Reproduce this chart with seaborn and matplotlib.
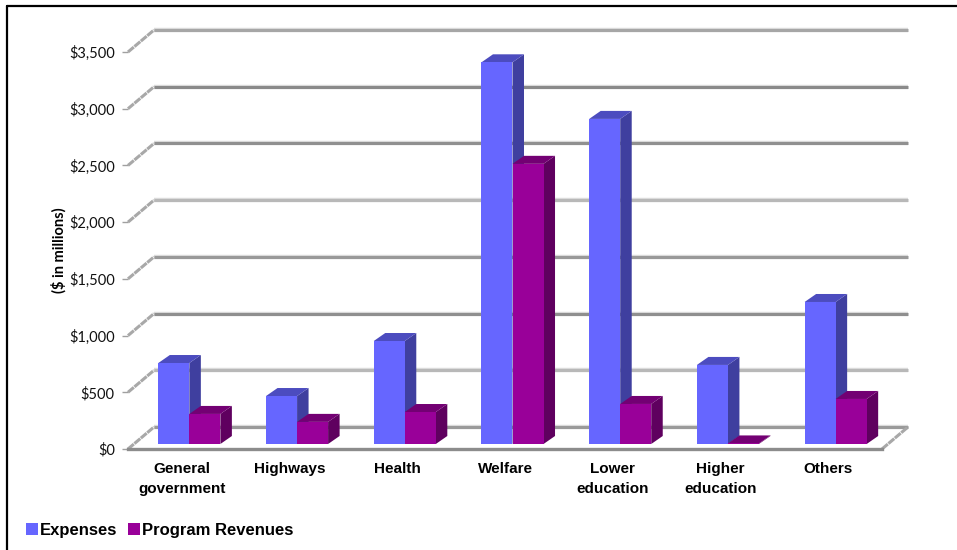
import pandas as pd
import numpy as np
import seaborn as sns
import matplotlib.pyplot as plt
from matplotlib.lines import Line2D
from matplotlib.patches import Polygon
from matplotlib.transforms import Affine2D, IdentityTransform

categories = ['General\ngovernment', 'Highways', 'Health', 'Welfare', 'Lower\neducation', 'Higher\neducation', 'Others']
expenses = [714, 423, 908, 3365, 2866, 697, 1252]
revenues = [265, 195, 282, 2470, 353, 5, 397]
yticks = [0, 500, 1000, 1500, 2000, 2500, 3000, 3500]
ytick_labels = ['$0', '$500', '$1,000', '$1,500', '$2,000', '$2,500', '$3,000', '$3,500']
grid_colors = ['#9a9a9a', '#b8b8b8', '#8f8f8f', '#999999', '#b8b8b8', '#909090', '#8a8a8a', '#a6a6a6']

W, H = 957, 550
DEPTH = (26, 22)      # floor depth, px
BAR_SHIFT = (7.5, 5)  # bars stand a little back from the front edge
BAR_DEPTH = (11.5, 8)

df = pd.DataFrame({'category': categories, 'Expenses': expenses, 'Program Revenues': revenues})
long_df = df.melt(id_vars='category', var_name='series', value_name='value')

sns.set_style('white')
plt.rcParams['font.family'] = ['Liberation Sans', 'DejaVu Sans']

fig = plt.figure(figsize=(W / 100, H / 100), dpi=100)
ax = fig.add_axes([128 / W, 1 - 449 / H, (882 - 128) / W, (449 - 52) / H])
ax.patch.set_alpha(0)

sns.barplot(data=long_df, x='category', y='value', hue='series', ax=ax, width=0.576, gap=0,
            palette=['#6666ff', '#990099'], saturation=1, errorbar=None, linewidth=0, zorder=5)
ax.set_xlim(-0.5, 6.5)
ax.set_ylim(0, 3500)

# back wall lines and the slanted floor/wall edges
for v, c in zip(yticks, grid_colors):
    x0, y0 = ax.transData.transform((-0.5, v))
    x1, _ = ax.transData.transform((6.5, v))
    ax.plot([x0 + DEPTH[0], x1 + DEPTH[0]], [y0 + DEPTH[1], y0 + DEPTH[1]], transform=IdentityTransform(),
            color='#dcdcdc', lw=3.2, solid_capstyle='butt', clip_on=False, zorder=1)
    ax.plot([x0 + DEPTH[0], x1 + DEPTH[0]], [y0 + DEPTH[1], y0 + DEPTH[1]], transform=IdentityTransform(),
            color=c, lw=2.2, solid_capstyle='butt', clip_on=False, zorder=1)
    ax.plot([x0, x0 + DEPTH[0]], [y0, y0 + DEPTH[1]], transform=IdentityTransform(),
            color='#a8a8a8', lw=2.2, ls=(0, (2.5, 0.25)), clip_on=False, zorder=1)
x1, y0 = ax.transData.transform((6.5, 0))
ax.plot([x1, x1 + DEPTH[0]], [y0, y0 + DEPTH[1]], transform=IdentityTransform(),
        color='#a8a8a8', lw=2.2, ls=(0, (2.5, 0.25)), clip_on=False, zorder=1)

# extruded faces for each bar, worked out from the seaborn bars
face_colors = [('#4c4cbf', '#3f3f9f'), ('#730073', '#5f005f')]
shift = Affine2D().translate(*BAR_SHIFT)
for n, container in enumerate(ax.containers):
    top_c, side_c = face_colors[n]
    for bar in container:
        bar.set_transform(ax.transData + shift)
        bar.set_clip_on(False)
        bar.set_zorder(5 + 2 * n)
        xa, ya = ax.transData.transform((bar.get_x(), 0)) + np.array(BAR_SHIFT)
        xb, yb = ax.transData.transform((bar.get_x() + bar.get_width(), bar.get_height())) + np.array(BAR_SHIFT)
        dx, dy = BAR_DEPTH
        side = Polygon([(xb, ya), (xb + dx, ya + dy), (xb + dx, yb + dy), (xb, yb)], closed=True, fc=side_c, lw=0,
                       transform=IdentityTransform(), clip_on=False, zorder=4 + 2 * n)
        top = Polygon([(xa, yb), (xa + dx, yb + dy), (xb + dx, yb + dy), (xb, yb)], closed=True, fc=top_c, lw=0,
                      transform=IdentityTransform(), clip_on=False, zorder=4 + 2 * n)
        ax.add_patch(side)
        ax.add_patch(top)

sns.despine(ax=ax, left=True, top=True, right=True)
ax.spines['bottom'].set_color('#8c8c8c')
ax.spines['bottom'].set_linewidth(2.4)
ax.spines['bottom'].set_zorder(3)
ax.set_xlabel('')
ax.set_ylabel('($ in millions)', fontsize=10.5, fontweight='bold', family=['Lato', 'DejaVu Sans'], labelpad=2, color='black')
ax.set_yticks(yticks)
ax.set_yticklabels(ytick_labels, fontsize=10.5, family=['Lato', 'DejaVu Sans'], color='#111111')
ax.tick_params(axis='y', left=True, length=4.5, width=1, color='#a0a0a0', pad=5)
ax.tick_params(axis='x', bottom=False, pad=6)
for lab in ax.get_xticklabels():
    lab.set_fontsize(11)
    lab.set_fontweight('bold')
    lab.set_color('black')
    lab.set_linespacing(1.55)

handles, labels = ax.get_legend_handles_labels()
ax.legend(handles, labels, loc='lower left', bbox_to_anchor=(26 / W, 1 - 538 / H), bbox_transform=fig.transFigure,
          ncol=2, frameon=False, prop={'size': 12, 'weight': 'bold'}, handlelength=0.72, handleheight=0.72,
          handletextpad=0.1, columnspacing=0.65, borderpad=0, borderaxespad=0, labelcolor='black')

# outer black frame of the screenshot, left and top only
fig.add_artist(Line2D([7.5 / W, 7.5 / W], [0, 1 - 6 / H], color='black', lw=1.6, transform=fig.transFigure))
fig.add_artist(Line2D([7.5 / W, 1], [1 - 6 / H, 1 - 6 / H], color='black', lw=1.6, transform=fig.transFigure))

fig.savefig('out.png', dpi=100)
